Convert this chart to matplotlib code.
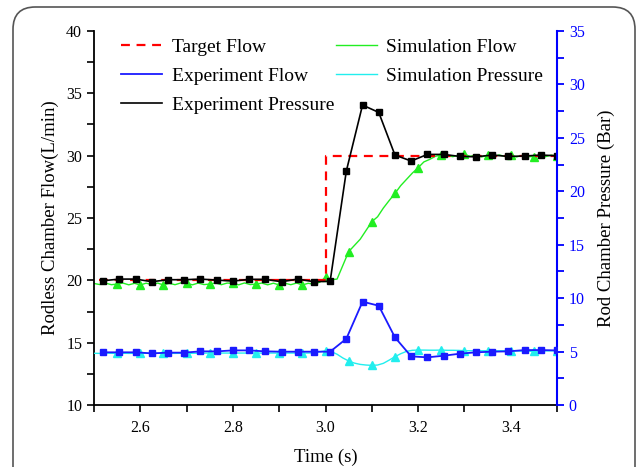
import numpy as np
import matplotlib
matplotlib.use("Agg")
import matplotlib.pyplot as plt
from matplotlib.lines import Line2D
from matplotlib.patches import FancyBboxPatch
from matplotlib.ticker import MultipleLocator, FixedLocator

plt.rcParams['font.family'] = ['Liberation Serif', 'DejaVu Serif']

# Experimental samples (every 0.035 s)
exp_time = [2.52 + 0.035 * k for k in range(29)]
exp_black = [19.97, 20.10, 20.10, 19.89, 20.05, 20.05, 20.10, 20.02, 19.94, 20.08,
             20.08, 19.89, 20.10, 19.89, 19.92, 28.77, 34.06, 33.47, 30.05, 29.57,
             30.10, 30.10, 29.94, 29.91, 30.05, 29.94, 29.97, 30.05, 29.99]
exp_blue = [4.93, 4.93, 4.93, 4.83, 4.90, 4.90, 5.02, 5.02, 5.11, 5.11,
            5.02, 4.99, 4.99, 4.99, 4.99, 6.20, 9.67, 9.29, 6.33, 4.55,
            4.46, 4.61, 4.80, 4.93, 4.99, 5.02, 5.14, 5.14, 5.11]

# Target
target_time = [2.51, 3.0, 3.5]
target_flow = [20, 30, 30]

# Simulation (every 0.0125 s)
sim_time = [2.5 + 0.0125 * k for k in range(81)]
sim_flow = [
    19.75, 19.66, 19.78, 19.65, 19.70,
    19.78, 19.64, 19.76, 19.63,
    19.77, 19.66, 19.78, 19.63,
    19.76, 19.65, 19.79, 19.77,
    19.64, 19.78, 19.66, 19.70,
    19.79, 19.65, 19.78, 19.77,
    19.64, 19.79, 19.66, 19.70,
    19.78, 19.64, 19.77, 19.63,
    19.77, 19.65, 19.78, 19.63,
    19.76, 19.70, 19.85, 20.25,
    20.05, 20.10, 21.20, 22.30,
    22.80, 23.30, 24.00, 24.70,
    25.10, 25.80, 26.40, 26.97,
    27.60, 28.10, 28.60, 29.03,
    29.50, 29.70, 29.95, 30.05,
    30.00, 29.92, 30.05, 30.10,
    29.95, 30.05, 29.90, 30.03,
    29.92, 30.06, 29.94, 30.03,
    29.90, 30.02, 29.92, 29.93,
    30.02, 29.92, 30.04, 29.97,
]
sim_pressure = [
    4.84, 4.83, 4.85, 4.84, 4.83,
    4.84, 4.83, 4.84, 4.83,
    4.84, 4.83, 4.84, 4.83,
    4.84, 4.83, 4.84, 4.83,
    4.84, 4.85, 4.85, 4.86,
    4.86, 4.86, 4.86, 4.86,
    4.86, 4.86, 4.86, 4.86,
    4.86, 4.86, 4.86, 4.86,
    4.86, 4.86, 4.86, 4.86,
    4.86, 4.88, 4.98, 5.08,
    5.00, 4.75, 4.40, 4.12,
    3.92, 3.80, 3.74, 3.71,
    3.74, 3.90, 4.20, 4.52,
    4.80, 5.02, 5.12, 5.14,
    5.14, 5.13, 5.13, 5.14,
    5.12, 5.12, 5.11, 5.08,
    5.08, 5.08, 5.08, 5.08,
    5.08, 5.08, 5.08, 5.08,
    5.06, 5.04, 5.03, 5.02,
    5.04, 5.06, 5.07, 5.08,
]

W, H = 637, 467
fig = plt.figure(figsize=(W / 100, H / 100), dpi=100)
ax = fig.add_axes([94 / W, 1 - 405 / H, (557 - 94) / W, (405 - 31) / H])
ax2 = ax.twinx()

RED = '#ff0000'
BLUE = '#1a1aff'
GREEN = '#22ee22'
CYAN = '#22eeee'

ax.plot(sim_time, sim_flow, color=GREEN, lw=1.0, marker='^', ms=5.5,
        markevery=list(range(4, 81, 4)), zorder=2)
ax.plot(target_time, target_flow, color=RED, lw=1.6, ls=(0, (4, 3)),
        drawstyle='steps-post', zorder=3)
ax.plot(exp_time, exp_black, color='black', lw=1.2, marker='s', ms=3.8, zorder=4)

ax2.plot(sim_time, sim_pressure, color=CYAN, lw=1.0, marker='^', ms=5.5,
         markevery=list(range(4, 81, 4)), zorder=2)
ax2.plot(exp_time, exp_blue, color=BLUE, lw=1.3, marker='s', ms=4.5, zorder=3)

ax.set_xlim(2.5, 3.5)
ax.set_ylim(10, 40)
ax2.set_ylim(0, 35)

ax.xaxis.set_major_locator(FixedLocator([2.6, 2.8, 3.0, 3.2, 3.4]))
ax.xaxis.set_minor_locator(FixedLocator([2.5, 2.7, 2.9, 3.1, 3.3, 3.5]))
ax.yaxis.set_major_locator(MultipleLocator(5))
ax.yaxis.set_minor_locator(MultipleLocator(2.5))
ax2.yaxis.set_major_locator(MultipleLocator(5))
ax2.yaxis.set_minor_locator(MultipleLocator(2.5))

for a in (ax, ax2):
    a.spines['top'].set_visible(False)
ax.spines['right'].set_visible(False)
ax.spines['left'].set_linewidth(1.3)
ax.spines['bottom'].set_linewidth(1.3)
ax2.spines['left'].set_visible(False)
ax2.spines['bottom'].set_visible(False)
ax2.spines['right'].set_color('#0000ff')
ax2.spines['right'].set_linewidth(1.5)

ax.tick_params(axis='both', which='both', direction='out', length=5, width=1.2,
               labelsize=11.5, colors='black')
ax.xaxis.set_tick_params(which='major', pad=6)
ax2.tick_params(axis='y', which='both', direction='out', length=5, width=1.3,
                labelsize=11.5, colors='#0000ff', labelcolor='#0000ff')
ax.set_xticklabels(['2.6', '2.8', '3.0', '3.2', '3.4'])

ax.set_xlabel('Time (s)', fontsize=13.5, labelpad=9)
ax.set_ylabel('Rodless Chamber Flow(L/min)', fontsize=13.5, labelpad=5)
ax2.set_ylabel('Rod Chamber Pressure (Bar)', fontsize=13.5, labelpad=9, color='black')

handles = [
    Line2D([], [], color=RED, lw=1.6, ls=(0, (4, 3))),
    Line2D([], [], color=BLUE, lw=1.3),
    Line2D([], [], color='black', lw=1.2),
    Line2D([], [], color=GREEN, lw=1.0),
    Line2D([], [], color=CYAN, lw=1.0),
]
labels = ['Target Flow', 'Experiment Flow', 'Experiment Pressure',
          'Simulation Flow', 'Simulation Pressure']
fig.legend(handles, labels, ncol=2, loc='upper left',
           bbox_to_anchor=(121 / W, 1 - 38 / H), frameon=False, fontsize=14,
           handlelength=2.1, handletextpad=0.5, columnspacing=0.1,
           labelspacing=0.6, borderpad=0, borderaxespad=0)

frame = FancyBboxPatch((13 / W, -0.1), (635 - 13) / W, (1 - 7 / H) + 0.1,
                       boxstyle='round,pad=0,rounding_size=0.035',
                       transform=fig.transFigure, fill=False,
                       edgecolor='#555555', lw=1.2, mutation_aspect=W / H)
fig.patches.append(frame)

fig.savefig('out.png', dpi=100)
